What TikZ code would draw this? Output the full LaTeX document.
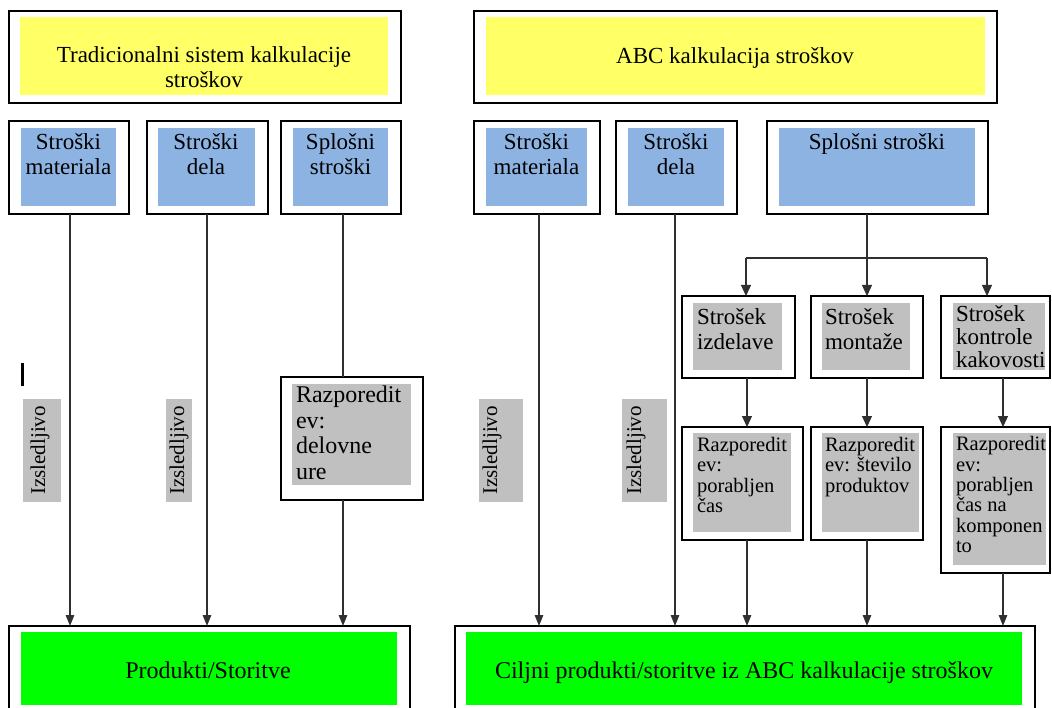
\documentclass[tikz,border=0pt]{standalone}
\usepackage{fontspec}
\setmainfont{Liberation Serif}
\usetikzlibrary{arrows.meta,fit}
\definecolor{boxyellow}{HTML}{FFFF66}
\definecolor{boxblue}{HTML}{8DB3E2}
\definecolor{boxgray}{HTML}{C0C0C0}
\definecolor{boxgreen}{HTML}{00FF00}
\definecolor{linegray}{HTML}{303030}
\newcommand\setfs[2]{\fontsize{#1}{#2}\selectfont}

\begin{document}
\begin{tikzpicture}[x=1pt,y=-1pt,
  frame/.style={draw=black, line width=1.4pt, fill=white, inner sep=0pt, outer sep=0pt},
  panel/.style={fill=#1, draw=none, inner sep=0pt, outer sep=0pt},
  txt/.style={inner sep=0pt, outer sep=0pt, text=black},
  ctext/.style={txt, anchor=north, align=center},
  ltext/.style={txt, anchor=north west, align=left},
  btext/.style={txt, anchor=base},
  conn/.style={draw=linegray, line width=1.2pt},
  arr/.style={conn, -{Triangle[width=10pt,length=11pt]}},
  arrs/.style={conn, -{Triangle[width=8.5pt,length=11pt]}},
  tag/.style={fill=boxgray, inner sep=0pt, outer sep=0pt, rotate=90,
              minimum width=103pt, font=\setfs{21}{21}},
]
\useasboundingbox (0,0) rectangle (1052,708);
\clip (0,0) rectangle (1052,708);

% ---------- column guides ----------
\coordinate (L1) at (70,0);
\coordinate (L2) at (207,0);
\coordinate (L3) at (343,0);
\coordinate (R1) at (539,0);
\coordinate (R2) at (675,0);
\coordinate (C1) at (747,0);
\coordinate (C2) at (867,0);
\coordinate (C3) at (1003,0);
\coordinate (J)  at (867,258);
\coordinate (Jl) at (746,258);
\coordinate (Jr) at (987,258);

% ================= traditional costing =================
\node[frame, fit={(9,11) (401,103)}] (tLo) {};
\node[panel=boxyellow, fit={(20,17) (388,95)}] (tLi) {};
\node[ctext, font=\setfs{23}{25}] (tLt) at (204,45.5)
  {\strut Tradicionalni sistem kalkulacije\\stroškov};

\node[frame, fit={(9,121) (129,214)}] (a1o) {};
\node[panel=boxblue, fit={(21,128) (116,206)}] (a1i) {};
\node[ctext, font=\setfs{23}{25}] (a1t) at (68.5,132.5) {\strut Stroški\\materiala};

\node[frame, fit={(147,121) (268,214)}] (a2o) {};
\node[panel=boxblue, fit={(158,128) (255,206)}] (a2i) {};
\node[ctext, font=\setfs{23}{25}] (a2t) at (206,132.5) {\strut Stroški\\dela};

\node[frame, fit={(281,121) (401,214)}] (a3o) {};
\node[panel=boxblue, fit={(293,128) (388,206)}] (a3i) {};
\node[ctext, font=\setfs{23}{25}] (a3t) at (340.5,132.5) {\strut Splošni\\stroški};

\node[frame, fit={(281,377) (423,500)}] (rLo) {};
\node[panel=boxgray, fit={(292,384) (411,485)}] (rLi) {};
\node[ltext, font=\setfs{24}{25.5}] (rLt) at (296,385)
  {\strut Razporedit\\ev:\\delovne\\ure};

\node[frame, fit={(9,626) (410,720)}] (pLo) {};
\node[panel=boxgreen, fit={(21,632) (397,705)}] (pLi) {};
\node[btext, font=\setfs{24}{26}] (pLt) at (208,678) {Produkti/Storitve};

\node[tag, text height=22pt, text depth=16pt] (i1) at (42,450.5) {Izsledljivo};
\node[tag, text height=18pt, text depth=8pt] (i2) at (179,450.5) {Izsledljivo};

% text cursor mark
\draw[line width=2.6pt] (22.5,363) -- (22.5,386);

% connectors
\draw[arrs] (L1 |- a1o.south) -- (L1 |- pLo.north);
\draw[arrs] (L2 |- a2o.south) -- (L2 |- pLo.north);
\draw[conn] (L3 |- a3o.south) -- (L3 |- rLo.north);
\draw[arrs] (L3 |- rLo.south) -- (L3 |- pLo.north);

% ================= ABC costing =================
\node[frame, fit={(474,11) (997,103)}] (tRo) {};
\node[panel=boxyellow, fit={(486,17) (985,95)}] (tRi) {};
\node[btext, font=\setfs{23}{25}] (tRt) at (735,63.5) {ABC kalkulacija stroškov};

\node[frame, fit={(474,121) (600,214)}] (b1o) {};
\node[panel=boxblue, fit={(486,128) (587,206)}] (b1i) {};
\node[ctext, font=\setfs{23}{25}] (b1t) at (536.5,132.5) {\strut Stroški\\materiala};

\node[frame, fit={(616,121) (737,214)}] (b2o) {};
\node[panel=boxblue, fit={(628,128) (724,206)}] (b2i) {};
\node[ctext, font=\setfs{23}{25}] (b2t) at (676,132.5) {\strut Stroški\\dela};

\node[frame, fit={(767,121) (988,214)}] (b3o) {};
\node[panel=boxblue, fit={(779,128) (975,206)}] (b3i) {};
\node[btext, font=\setfs{23}{25}] (b3t) at (877,150) {Splošni stroški};

% activity cost pools
\node[frame, fit={(682,296) (795,378)}] (c1o) {};
\node[panel=boxgray, fit={(693,303) (782,370)}] (c1i) {};
\node[ltext, font=\setfs{23}{25}] (c1t) at (697,307.5) {\strut Strošek\\izdelave};

\node[frame, fit={(811,296) (923,378)}] (c2o) {};
\node[panel=boxgray, fit={(822,303) (910,370)}] (c2i) {};
\node[ltext, font=\setfs{23}{25}] (c2t) at (825,307.5) {\strut Strošek\\montaže};

\node[frame, fit={(941,296) (1050,378)}] (c3o) {};
\node[panel=boxgray, fit={(953,303) (1045,370)}] (c3i) {};
\node[ltext, font=\setfs{23}{23}] (c3t) at (956,305.9) {\strut Strošek\\kontrole\\kakovosti};

% cost drivers
\node[frame, fit={(682,427) (803,540)}] (d1o) {};
\node[panel=boxgray, fit={(693,433) (791,532)}] (d1i) {};
\node[ltext, font=\setfs{20.5}{20.5}] (d1t) at (697,436.7)
  {\strut Razporedit\\ev:\\porabljen\\čas};

\node[frame, fit={(811,427) (923,540)}] (d2o) {};
\node[panel=boxgray, fit={(822,433) (919,532)}] (d2i) {};
\node[ltext, font=\setfs{20.5}{20.5}] (d2t) at (825,436.7)
  {\strut Razporedit\\ev: število\\produktov};

\node[frame, fit={(941,427) (1050,573)}] (d3o) {};
\node[panel=boxgray, fit={(953,433) (1046,565)}] (d3i) {};
\node[ltext, font=\setfs{20.5}{20.3}] (d3t) at (956,436.7)
  {\strut Razporedit\\ev:\\porabljen\\čas na\\komponen\\to};

\node[frame, fit={(455,626) (1035,720)}] (pRo) {};
\node[panel=boxgreen, fit={(466,632) (1022,705)}] (pRi) {};
\node[btext, font=\setfs{24}{26}] (pRt) at (744,678)
  {Ciljni produkti/storitve iz ABC kalkulacije stroškov};

\node[tag, text height=18pt, text depth=26pt] (i3) at (501,450.5) {Izsledljivo};
\node[tag, text height=19pt, text depth=26pt] (i4) at (644.5,450.5) {Izsledljivo};

% connectors
\draw[arrs] (R1 |- b1o.south) -- (R1 |- pRo.north);
\draw[arrs] (R2 |- b2o.south) -- (R2 |- pRo.north);
\draw[conn] (J |- b3o.south) -- (J);
\draw[conn] (Jl) -- (Jr);
\draw[arr] (Jl) -- (Jl |- c1o.north);
\draw[arr] (J)  -- (J |- c2o.north);
\draw[arr] (Jr) -- (Jr |- c3o.north);
\draw[arr] (C1 |- c1o.south) -- (C1 |- d1o.north);
\draw[arr] (C2 |- c2o.south) -- (C2 |- d2o.north);
\draw[arr] (C3 |- c3o.south) -- (C3 |- d3o.north);
\draw[arrs] (C1 |- d1o.south) -- (C1 |- pRo.north);
\draw[arrs] (C2 |- d2o.south) -- (C2 |- pRo.north);
\draw[arrs] (C3 |- d3o.south) -- (C3 |- pRo.north);

\end{tikzpicture}
\end{document}
